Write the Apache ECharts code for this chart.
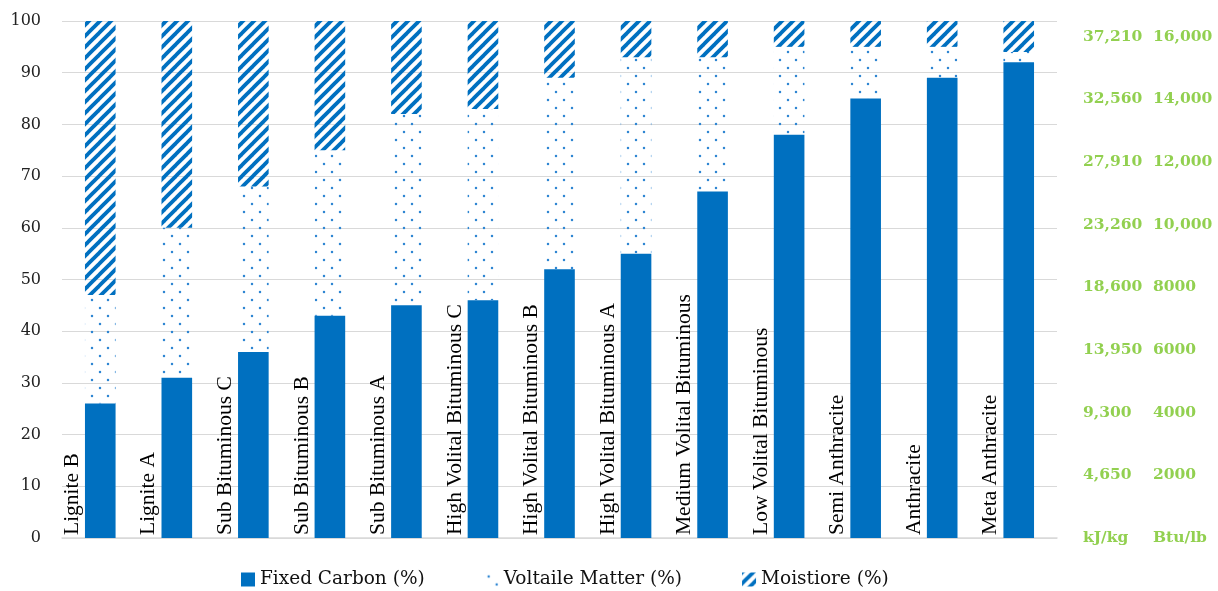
<!DOCTYPE html>
<html>
<head>
<meta charset="utf-8">
<script src="https://cdn.jsdelivr.net/npm/echarts@6/dist/echarts.min.js"></script>
<style>
html,body{margin:0;padding:0;background:#fff;}
#chart{width:1218px;height:591px;}
</style>
</head>
<body>
<div id="chart"></div>
<script>
const categories = ['Lignite B','Lignite A','Sub Bituminous C','Sub Bituminous B','Sub Bituminous A','High Volital Bituminous C','High Volital Bituminous B','High Volital Bituminous A','Medium Volital Bituminous','Low Volital Bituminous','Semi Anthracite','Anthracite','Meta Anthracite'];
const fixedCarbon = [26,31,36,43,45,46,52,55,67,78,85,89,92];
const volatileMatter = [21,29,32,32,37,37,37,38,26,17,10,6,2];
const moisture = [53,40,32,25,18,17,11,7,7,5,5,5,6];
const seriesNames = ['Fixed Carbon (%)','Voltaile Matter (%)','Moistiore (%)'];
const btuTicks = [0,2000,4000,6000,8000,10000,12000,14000,16000];
const kjLabels = ['kJ/kg','4,650','9,300','13,950','18,600','23,260','27,910','32,560','37,210'];
const btuLabels = ['Btu/lb','2000','4000','6000','8000','10,000','12,000','14,000','16,000'];

function hatchPattern(){
  const s = 11, c = document.createElement('canvas');
  c.width = s; c.height = s;
  const g = c.getContext('2d');
  g.strokeStyle = '#0070C0'; g.lineWidth = 3.8; g.lineCap = 'square';
  for (let k = -1; k <= 1; k++) {
    g.beginPath(); g.moveTo(k*s, s); g.lineTo(k*s + s, 0); g.stroke();
  }
  return c;
}
function dotPattern(){
  const c = document.createElement('canvas');
  c.width = 16; c.height = 16;
  const g = c.getContext('2d');
  g.fillStyle = '#2f86d2';
  [[4,4],[12,12]].forEach(p => { g.beginPath(); g.arc(p[0], p[1], 1.25, 0, Math.PI*2); g.fill(); });
  return c;
}

const chart = echarts.init(document.getElementById('chart'));
chart.setOption({
  animation: false,
  backgroundColor: '#fff',
  grid: { left: 62, right: 161, top: 21, bottom: 53, containLabel: false, outerBoundsMode: 'none' },
  legend: {
    left: 236, top: 565, itemWidth: 14, itemHeight: 14, itemGap: 60, icon: 'rect',
    textStyle: { fontFamily: 'DejaVu Serif', fontSize: 18.5, color: '#111' },
    data: seriesNames
  },
  xAxis: {
    type: 'category', data: categories,
    axisLine: { lineStyle: { color: '#d9d9d9', width: 1.5 } },
    axisTick: { show: false },
    axisLabel: {
      show: true, interval: 0, rotate: 90, inside: true, margin: 3, hideOverlap: false,
      fontFamily: 'Liberation Serif', fontSize: 21.5, color: '#000',
      verticalAlign: 'bottom', lineHeight: 56
    }
  },
  yAxis: [{
    type: 'value', min: 0, max: 100, interval: 10,
    axisLine: { show: false }, axisTick: { show: false },
    splitLine: { lineStyle: { color: '#d9d9d9', width: 1 } },
    axisLabel: { margin: 21, fontFamily: 'DejaVu Serif', fontSize: 16, color: '#222' }
  }, {
    type: 'value', position: 'right', min: 0, max: 16500, interval: 2000,
    axisLine: { show: false }, axisTick: { show: false }, splitLine: { show: false },
    axisLabel: {
      margin: 26, align: 'left',
      formatter: function (v) {
        const i = btuTicks.indexOf(v);
        if (i < 0) return '';
        return '{a|' + kjLabels[i] + '}{b|' + btuLabels[i] + '}';
      },
      rich: {
        a: { width: 70, fontFamily: 'DejaVu Serif', fontWeight: 'bold', fontSize: 15.5, color: '#92D050' },
        b: { fontFamily: 'DejaVu Serif', fontWeight: 'bold', fontSize: 15.5, color: '#92D050' }
      }
    }
  }],
  series: [
    { name: seriesNames[0], type: 'bar', stack: 'total', barWidth: '40%', data: fixedCarbon,
      itemStyle: { color: '#0070C0' }, emphasis: { disabled: true } },
    { name: seriesNames[1], type: 'bar', stack: 'total', barWidth: '40%', data: volatileMatter,
      itemStyle: { color: { image: dotPattern(), repeat: 'repeat' } }, emphasis: { disabled: true } },
    { name: seriesNames[2], type: 'bar', stack: 'total', barWidth: '40%', data: moisture,
      itemStyle: { color: { image: hatchPattern(), repeat: 'repeat' } }, emphasis: { disabled: true } }
  ]
});
</script>
</body>
</html>
